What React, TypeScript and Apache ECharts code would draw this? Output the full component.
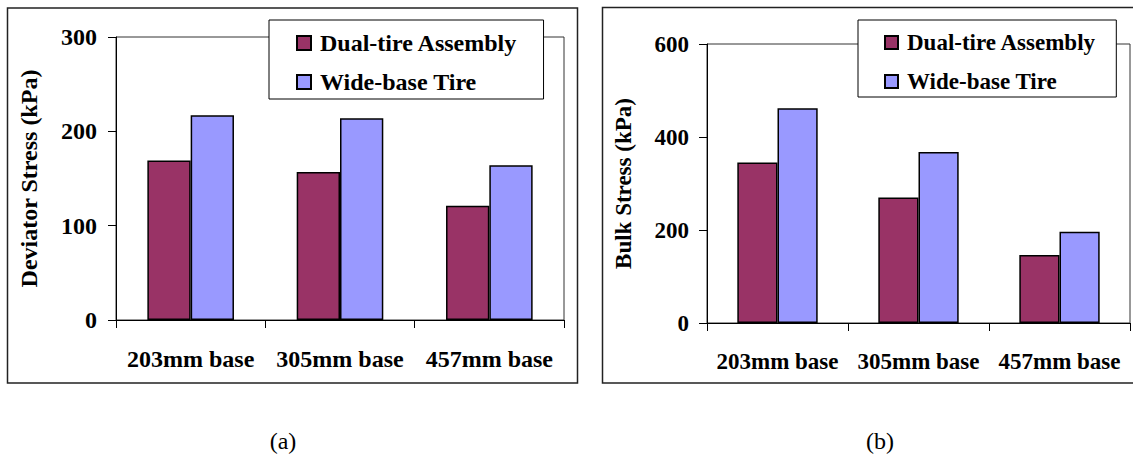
import React, { useEffect, useRef } from "react";
import * as echarts from "echarts";

const categories = ["203mm base", "305mm base", "457mm base"];
const seriesNames = ["Dual-tire Assembly", "Wide-base Tire"];
const deviatorDual = [169, 157, 121];
const deviatorWide = [217, 214, 164];
const bulkDual = [345, 270, 146];
const bulkWide = [462, 368, 196];
const deviatorAxis = { min: 0, max: 300, interval: 100 };
const bulkAxis = { min: 0, max: 600, interval: 200 };
const panelLabels = ["(a)", "(b)"];

const FONT = "Liberation Serif, Times New Roman, serif";
const DUAL_COLOR = "#993366";
const WIDE_COLOR = "#9999FF";

export default function App() {
  const ref = useRef<HTMLDivElement>(null);

  useEffect(() => {
    if (!ref.current) return;
    const chart = echarts.init(ref.current, undefined, { renderer: "svg" });

    const bold = (size: number) => ({
      fontFamily: FONT,
      fontWeight: "bold" as const,
      fontSize: size,
      color: "#000",
    });

    const xAxisBase = (grid: number, size: number) => ({
      type: "category" as const,
      gridIndex: grid,
      data: categories,
      axisLine: { show: true, lineStyle: { color: "#000", width: 1 } },
      axisTick: { show: true, length: 8, lineStyle: { color: "#000" } },
      axisLabel: { ...bold(size), margin: 27, interval: 0, hideOverlap: false },
      splitLine: { show: false },
    });

    const yAxisBase = (
      grid: number,
      size: number,
      ax: { min: number; max: number; interval: number },
      name: string,
      nameGap: number,
      labelMargin: number
    ) => ({
      type: "value" as const,
      gridIndex: grid,
      min: ax.min,
      max: ax.max,
      interval: ax.interval,
      name,
      nameLocation: "middle" as const,
      nameRotate: 90,
      nameGap,
      nameTextStyle: bold(size),
      axisLine: { show: true, lineStyle: { color: "#000", width: 1 } },
      axisTick: { show: true, length: 8, lineStyle: { color: "#000" } },
      axisLabel: { ...bold(size), margin: labelMargin },
      splitLine: { show: false },
    });

    const barSeries = (
      name: string,
      data: number[],
      color: string,
      grid: number,
      gap: string
    ) => ({
      type: "bar" as const,
      name,
      data,
      xAxisIndex: grid,
      yAxisIndex: grid,
      barGap: "0%",
      barCategoryGap: gap,
      itemStyle: { color, borderColor: "#000", borderWidth: 1.5 },
    });

    const legendBase = (
      left: number,
      top: number,
      size: number,
      icon: number,
      padding: number[],
      itemGap: number
    ) => ({
      data: seriesNames,
      orient: "vertical" as const,
      left,
      top,
      icon: "rect",
      itemWidth: icon,
      itemHeight: icon,
      itemGap,
      padding,
      backgroundColor: "#fff",
      borderColor: "#000",
      borderWidth: 1,
      textStyle: { ...bold(size), padding: [0, 0, 0, 4] },
      selectedMode: false,
    });

    chart.setOption({
      animation: false,
      backgroundColor: "#fff",
      textStyle: { fontFamily: FONT },
      grid: [
        {
          left: 116,
          right: 1133 - 564,
          top: 37,
          bottom: 462 - 320,
          show: true,
          borderColor: "#333",
          borderWidth: 1,
          backgroundColor: "transparent",
        },
        {
          left: 707,
          right: 1133 - 1130,
          top: 44,
          bottom: 462 - 323,
          show: true,
          borderColor: "#333",
          borderWidth: 1,
          backgroundColor: "transparent",
        },
      ],
      xAxis: [xAxisBase(0, 24), xAxisBase(1, 23)],
      yAxis: [
        yAxisBase(0, 24, deviatorAxis, "Deviator Stress (kPa)", 75, 19),
        yAxisBase(1, 23, bulkAxis, "Bulk Stress (kPa)", 72, 18),
      ],
      legend: [
        legendBase(269, 20, 24, 14, [11, 26, 5, 27], 15),
        legendBase(858, 20, 23, 13, [11, 20, 4, 26], 16),
      ],
      series: [
        barSeries(seriesNames[0], deviatorDual, DUAL_COLOR, 0, "42%"),
        barSeries(seriesNames[1], deviatorWide, WIDE_COLOR, 0, "42%"),
        barSeries(seriesNames[0], bulkDual, DUAL_COLOR, 1, "43%"),
        barSeries(seriesNames[1], bulkWide, WIDE_COLOR, 1, "43%"),
      ],
      graphic: [
        {
          type: "rect",
          shape: { x: 7.5, y: 8, width: 570, height: 375 },
          style: { fill: "none", stroke: "#222", lineWidth: 1.5 },
          z: 10,
        },
        {
          type: "rect",
          shape: { x: 602.5, y: 7.5, width: 545, height: 375.5 },
          style: { fill: "none", stroke: "#222", lineWidth: 1.5 },
          z: 10,
        },
        {
          type: "text",
          x: 283,
          y: 441,
          style: {
            text: panelLabels[0],
            fontFamily: FONT,
            fontSize: 24,
            fill: "#000",
            align: "center",
            verticalAlign: "middle",
          },
        },
        {
          type: "text",
          x: 880,
          y: 441,
          style: {
            text: panelLabels[1],
            fontFamily: FONT,
            fontSize: 24,
            fill: "#000",
            align: "center",
            verticalAlign: "middle",
          },
        },
      ],
    });

    return () => chart.dispose();
  }, []);

  return (
    <div
      ref={ref}
      style={{ position: "fixed", left: 0, top: 0, width: 1133, height: 462 }}
    />
  );
}
